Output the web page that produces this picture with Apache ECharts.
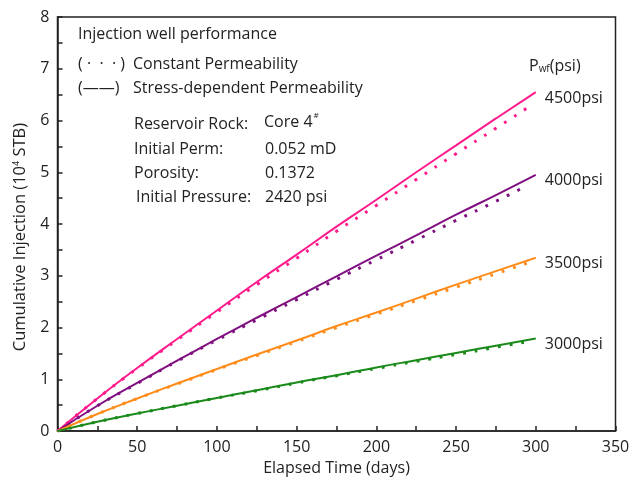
<!DOCTYPE html>
<html lang="en">
<head>
    <meta charset="UTF-8">
    <title>Injection well performance</title>
    <script src="https://cdn.jsdelivr.net/npm/echarts@6/dist/echarts.min.js" type="text/javascript"></script>
</head>
<body style="margin:0;background:#fff;">
<div id="main" style="width: 643px; height: 481px;"></div>
<script>
    // data (days, 10^4 STB)
    var days = [0, 25, 50, 75, 100, 125, 150, 175, 200, 225, 250, 275, 300];
    var dotDays = [0, 25, 50, 75, 100, 125, 150, 175, 200, 225, 250, 275, 295];

    var names = ['4500psi', '4000psi', '3500psi', '3000psi'];
    var colors = ['#ff1a8c', '#800f80', '#ff8c1a', '#1a8a1a'];

    // stress-dependent permeability (solid)
    var solid4500 = [0, 0.63, 1.22, 1.78, 2.33, 2.88, 3.41, 3.95, 4.47, 5.00, 5.52, 6.04, 6.55];
    var solid4000 = [0, 0.49, 0.93, 1.36, 1.78, 2.19, 2.59, 2.99, 3.39, 3.78, 4.18, 4.56, 4.95];
    var solid3500 = [0, 0.33, 0.63, 0.92, 1.20, 1.48, 1.75, 2.03, 2.29, 2.56, 2.83, 3.09, 3.35];
    var solid3000 = [0, 0.18, 0.34, 0.49, 0.64, 0.79, 0.94, 1.08, 1.23, 1.37, 1.51, 1.65, 1.79];

    // constant permeability (dotted)
    var dot4500 = [0, 0.63, 1.21, 1.76, 2.30, 2.83, 3.34, 3.86, 4.36, 4.86, 5.36, 5.85, 6.25];
    var dot4000 = [0, 0.49, 0.92, 1.35, 1.76, 2.15, 2.54, 2.93, 3.31, 3.69, 4.07, 4.44, 4.75];
    var dot3500 = [0, 0.33, 0.63, 0.91, 1.19, 1.46, 1.73, 2.00, 2.26, 2.52, 2.78, 3.04, 3.25];
    var dot3000 = [0, 0.18, 0.34, 0.49, 0.64, 0.78, 0.93, 1.07, 1.21, 1.35, 1.48, 1.62, 1.73];

    var solidSets = [solid4500, solid4000, solid3500, solid3000];
    var dotSets = [dot4500, dot4000, dot3500, dot3000];

    function pairs(xs, ys) {
        return xs.map(function (x, i) { return [x, ys[i]]; });
    }

    var font = '"Open Sans", "Liberation Sans", sans-serif';
    var series = [];
    for (var i = 0; i < names.length; i++) {
        series.push({
            name: names[i] + ' const',
            type: 'line',
            data: pairs(dotDays, dotSets[i]),
            smooth: true,
            showSymbol: false,
            lineStyle: {color: colors[i], width: 3, type: [2.8, 9], cap: 'butt'},
            z: 2
        });
        series.push({
            name: names[i],
            type: 'line',
            data: pairs(days, solidSets[i]),
            smooth: true,
            showSymbol: false,
            lineStyle: {color: colors[i], width: 2},
            endLabel: {
                show: true,
                formatter: '{a}',
                color: '#222',
                fontSize: 16,
                fontFamily: font,
                offset: [1, 6]
            },
            z: 3
        });
    }

    function txt(x, y, s) {
        return {
            type: 'text', left: x, top: y,
            style: {text: s, fill: '#222', font: '16px ' + font}
        };
    }

    var myChart = echarts.init(document.getElementById('main'));
    var option = {
        animation: false,
        backgroundColor: '#fff',
        grid: {
            left: 57.5, right: 27.5, top: 17, bottom: 48,
            show: true, borderColor: '#222', borderWidth: 1.5
        },
        xAxis: {
            type: 'value',
            min: 0, max: 350, interval: 50,
            name: 'Elapsed Time (days)',
            nameLocation: 'middle',
            nameGap: 25,
            nameTextStyle: {fontSize: 16, color: '#222', fontFamily: font},
            axisLine: {show: true, lineStyle: {color: '#222', width: 1.5}},
            axisTick: {show: true, inside: true, length: 5, lineStyle: {color: '#222', width: 1.5}},
            minorTick: {show: true, splitNumber: 2, length: 5, lineStyle: {color: '#222', width: 1.5}},
            axisLabel: {fontSize: 16, color: '#222', fontFamily: font, margin: 8},
            splitLine: {show: false}
        },
        yAxis: {
            type: 'value',
            min: 0, max: 8, interval: 1,
            name: '{n|Cumulative Injection (10}{s|4}{n| STB)}',
            nameLocation: 'middle',
            nameGap: 29,
            nameTextStyle: {
                fontSize: 16.5, color: '#222', fontFamily: font,
                padding: [0, 26, 0, 0],
                rich: {
                    n: {fontSize: 16.5, color: '#222', fontFamily: font},
                    s: {fontSize: 9, color: '#222', fontFamily: font, verticalAlign: 'top', padding: [0, 0, 8, 0]}
                }
            },
            axisLine: {show: true, lineStyle: {color: '#222', width: 1.5}},
            axisTick: {show: true, inside: true, length: 5, lineStyle: {color: '#222', width: 1.5}},
            minorTick: {show: true, splitNumber: 2, length: 5, lineStyle: {color: '#222', width: 1.5}},
            axisLabel: {fontSize: 16, color: '#222', fontFamily: font, margin: 8},
            splitLine: {show: false}
        },
        graphic: [
            txt(78, 26, 'Injection well performance'),
            txt(78, 56, '( ·  ·  · )'),
            txt(133, 56, 'Constant Permeability'),
            txt(78, 80, '(——)'),
            txt(133, 80, 'Stress-dependent Permeability'),
            txt(134, 116, 'Reservoir Rock:'),
            {
                type: 'text', left: 264, top: 112,
                style: {
                    text: '{n|Core 4}{s|#}', fill: '#222', font: '16px ' + font,
                    rich: {
                        n: {fontSize: 16, fontFamily: font, fill: '#222', padding: [4, 0, 0, 0]},
                        s: {fontSize: 8, fontFamily: font, fill: '#222', padding: [0, 0, 9, 1]}
                    }
                }
            },
            txt(134, 141, 'Initial Perm:'),
            txt(265, 141, '0.052 mD'),
            txt(134, 165, 'Porosity:'),
            txt(265, 165, '0.1372'),
            txt(136, 189, 'Initial Pressure:'),
            txt(265, 189, '2420 psi'),
            {
                type: 'text', left: 529, top: 58,
                style: {
                    text: '{n|P}{s|wf}{n|(psi)}', fill: '#222',
                    rich: {
                        n: {fontSize: 16, fontFamily: font, fill: '#222'},
                        s: {fontSize: 10, fontFamily: font, fill: '#222', padding: [6, 0, 0, 0]}
                    }
                }
            }
        ],
        series: series
    };
    myChart.setOption(option);
</script>
</body>
</html>
